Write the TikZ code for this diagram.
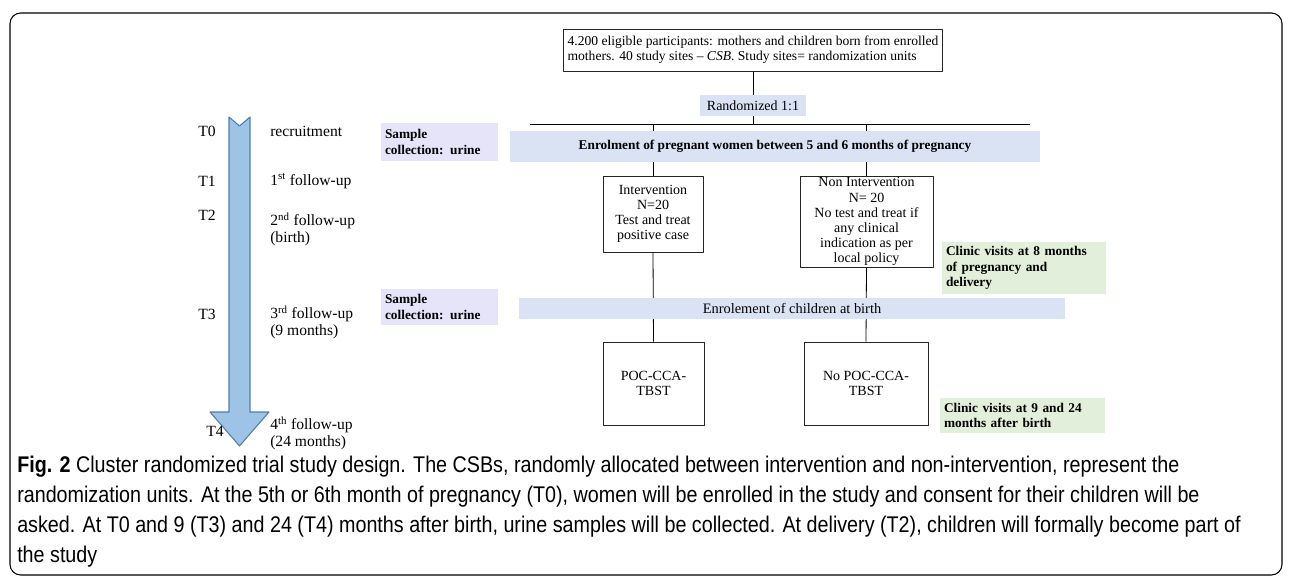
\documentclass[tikz,border=0pt]{standalone}
\usepackage{fontspec}
\newfontfamily\dfont{Liberation Serif}
\newfontfamily\capfont[FakeStretch=0.87]{Liberation Sans}
\usetikzlibrary{backgrounds}
\definecolor{barblue}{RGB}{218,227,243}
\definecolor{lilac}{RGB}{230,228,248}
\definecolor{mint}{RGB}{226,239,218}
\definecolor{arrowfill}{RGB}{157,195,230}
\definecolor{arrowline}{RGB}{82,125,170}
\begin{document}
\begin{tikzpicture}[x=0.75pt,y=-0.75pt,line join=round]
	\tikzset{box/.style={draw=black!85,line width=0.6pt,inner sep=0pt,align=center,font=\dfont\fontsize{10.5}{11.3}\selectfont},
		band/.style={fill=barblue,inner sep=0pt,align=center},
		note/.style={inner sep=3pt,align=left,font=\dfont\bfseries\fontsize{10}{11.6}\selectfont},
		timetext/.style={inner sep=0pt,align=left,font=\dfont\fontsize{11.7}{12.2}\selectfont},
		capline/.style={anchor=base west,inner sep=0pt,font=\capfont\fontsize{17}{18}\selectfont}}
	\useasboundingbox (0,0) rectangle (1292,578);
	\draw[line width=0.8pt,rounded corners=8pt] (10,13) rectangle (1282,575);
	% timeline arrow
	\filldraw[fill=arrowfill,draw=arrowline,line width=0.8pt] (229,117)--(239.5,126)--(250,117)--(250,412)--(269,412)--(239.5,446)--(210,412)--(229,412)--cycle;
	\node[timetext,anchor=east] (t0) at (216,131) {T0};
	\node[timetext,anchor=east] (t1) at (216,181) {T1};
	\node[timetext,anchor=east] (t2) at (216,215) {T2};
	\node[timetext,anchor=east] (t3) at (216,314) {T3};
	\node[timetext,anchor=east] (t4) at (224,431) {T4};
	\node[timetext,anchor=west] (s0) at (270,131) {recruitment};
	\node[timetext,anchor=west] (s1) at (270,181) {1\textsuperscript{st} follow-up};
	\node[timetext,anchor=west] (s2) at (270,229) {2\textsuperscript{nd} follow-up\\(birth)};
	\node[timetext,anchor=west] (s3) at (270,322) {3\textsuperscript{rd} follow-up\\(9 months)};
	\node[timetext,anchor=west] (s4) at (270,433) {4\textsuperscript{th} follow-up\\(24 months)};
	% samples and visits
	\node[note,fill=lilac,text width=81.75pt,minimum height=28.5pt] (samp1) at (439.5,142) {Sample\\collection: urine};
	\node[note,fill=lilac,text width=81.75pt,minimum height=27pt] (samp2) at (439.5,307) {Sample\\collection: urine};
	\node[note,fill=mint,text width=117pt,minimum height=37.5pt] (clin8) at (1024,268) {Clinic visits at 8 months\\of pregnancy and\\delivery};
	\node[note,fill=mint,text width=117.75pt,minimum height=26.25pt] (clin9) at (1022.5,415.5) {Clinic visits at 9 and 24\\months after birth};
	% flow chart
	\node[box,align=left,inner xsep=3pt,minimum height=31.5pt,font=\dfont\fontsize{10.2}{11}\selectfont] (top) at (753,50) {4.200 eligible participants: mothers and children born from enrolled\\mothers. 40 study sites – \textit{CSB}. Study sites= randomization units};
	\node[band,minimum width=79.5pt,minimum height=15.75pt,font=\dfont\fontsize{10.5}{11}\selectfont] (rand) at (753,105.5) {Randomized 1:1};
	\node[band,minimum width=397.5pt,minimum height=23.25pt,font=\dfont\bfseries\fontsize{10}{11}\selectfont] (enrolW) at (775,146.5) {Enrolment of pregnant women between 5 and 6 months of pregnancy};
	\node[box,minimum width=75pt,minimum height=57pt] (int) at (653,214) {Intervention\\N=20\\Test and treat\\positive case};
	\node[box,minimum width=99.75pt,minimum height=68.25pt] (nonint) at (866.5,221.5) {Non Intervention\\N= 20\\No test and treat if\\any clinical\\indication as per\\local policy};
	\node[band,minimum width=409.5pt,minimum height=15.75pt,font=\dfont\fontsize{10.8}{11}\selectfont] (enrolC) at (792,308.5) {Enrolement of children at birth};
	\node[box,minimum width=75.75pt,minimum height=62.25pt] (poc) at (653.5,383.5) {POC-CCA-\\TBST};
	\node[box,minimum width=93pt,minimum height=62.25pt] (nopoc) at (866,383.5) {No POC-CCA-\\TBST};
	\coordinate (lineW) at (530,124);
	\coordinate (lineE) at (1030,124);
	\begin{scope}[on background layer]
		\draw[line width=0.6pt] (top.south)--(top.south |- lineW);
		\draw[line width=0.6pt] (lineW)--(lineE);
		\draw[line width=0.6pt] (int.north |- lineW)--(int.north);
		\draw[line width=0.6pt] (nonint.north |- lineW)--(nonint.north);
		\draw[line width=0.6pt] (int.south)--(poc.north);
		\draw[line width=0.6pt] (nonint.south)--(nopoc.north);
	\end{scope}
	% caption
	\node[capline] (cap1) at (17,472) {\textbf{Fig. 2} Cluster randomized trial study design. The CSBs, randomly allocated between intervention and non-intervention, represent the};
	\node[capline] (cap2) at (17,502) {randomization units. At the 5th or 6th month of pregnancy (T0), women will be enrolled in the study and consent for their children will be};
	\node[capline] (cap3) at (17,532) {asked. At T0 and 9 (T3) and 24 (T4) months after birth, urine samples will be collected. At delivery (T2), children will formally become part of};
	\node[capline] (cap4) at (17,562) {the study};
\end{tikzpicture}
\end{document}
